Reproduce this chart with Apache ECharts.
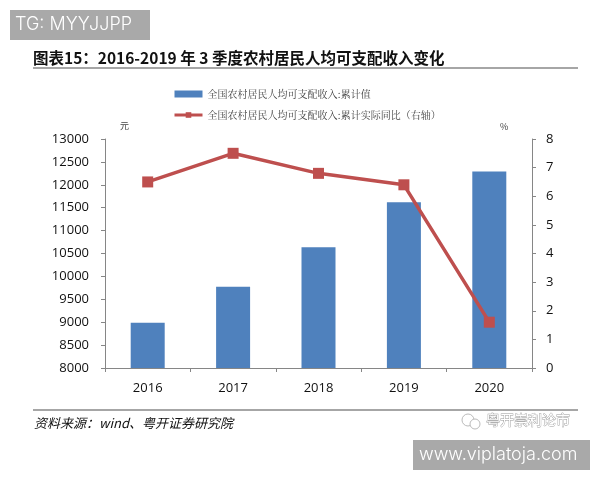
<!DOCTYPE html>
<html>
<head>
<meta charset="utf-8">
<style>html,body{margin:0;padding:0;background:#fff}#c{width:600px;height:480px}</style>
<script src="https://cdn.jsdelivr.net/npm/echarts@6/dist/echarts.min.js"></script>
</head>
<body>
<div id="c"></div>
<script>
const years = ['2016', '2017', '2018', '2019', '2020'];
const incomeTotal = [8987, 9776, 10638, 11618, 12290];
const realGrowth = [6.5, 7.5, 6.8, 6.4, 1.6];
const incomeName = '全国农村居民人均可支配收入:累计值';
const growthName = '全国农村居民人均可支配收入:累计实际同比\uFF08右轴\uFF09';
const chartTitle = '图表15\uFF1A2016-2019 年 3 季度农村居民人均可支配收入变化';
const sourceNote = '资料来源\uFF1Awind、粤开证券研究院';

const cjk = '"Noto Sans CJK SC", sans-serif';
const axisGrey = '#868686';
const axisFont = { color: '#111', fontSize: 13, fontFamily: '"Open Sans", sans-serif' };
const axisLine = { show: true, lineStyle: { color: axisGrey, width: 1 } };
const axisTick = { show: true, length: 4, lineStyle: { color: axisGrey } };

const chart = echarts.init(document.getElementById('c'), null, { renderer: 'canvas' });
chart.setOption({
  animation: false,
  backgroundColor: '#fff',
  grid: { left: 105, right: 68, top: 139, bottom: 112 },
  legend: {
    orient: 'vertical', left: 173, top: 89, padding: 0, itemGap: 11,
    itemWidth: 28, itemHeight: 7,
    lineStyle: { width: 3 },
    textStyle: { fontSize: 10, color: '#444', fontFamily: '"Noto Serif CJK SC", ' + cjk },
    data: [{ name: incomeName, icon: 'rect' }, growthName]
  },
  xAxis: {
    type: 'category', data: years,
    axisLine, axisTick: { ...axisTick, alignWithLabel: false },
    axisLabel: { ...axisFont, margin: 14 }
  },
  yAxis: [
    { type: 'value', min: 8000, max: 13000, interval: 500, axisLine, axisTick, splitLine: { show: false },
      axisLabel: { ...axisFont, margin: 16, formatter: v => String(v) } },
    { type: 'value', min: 0, max: 8, interval: 1, position: 'right', axisLine, axisTick, splitLine: { show: false },
      axisLabel: { ...axisFont, margin: 14 } }
  ],
  series: [
    { name: incomeName, type: 'bar', data: incomeTotal, barWidth: 34, itemStyle: { color: '#4F81BD' } },
    { name: growthName, type: 'line', yAxisIndex: 1, data: realGrowth,
      symbol: 'rect', symbolSize: 11,
      lineStyle: { color: '#BE4F4E', width: 3.5 }, itemStyle: { color: '#BE4F4E' } }
  ],
  graphic: [
    { type: 'rect', shape: { x: 10, y: 10, width: 140, height: 30 }, style: { fill: '#A9A9A9' } },
    { type: 'text', style: { x: 15, y: 25, text: 'TG: MYYJJPP', fill: '#fff', fontSize: 18, verticalAlign: 'middle', fontFamily: 'Inter, sans-serif', fontWeight: 300 } },
    { type: 'text', style: { x: 33, y: 58, text: chartTitle, fill: '#111', fontSize: 15.5, fontWeight: 'bold', verticalAlign: 'middle', fontFamily: cjk } },
    { type: 'line', shape: { x1: 33, y1: 68, x2: 578, y2: 68 }, style: { stroke: '#A6A6A6', lineWidth: 2 } },
    { type: 'text', style: { x: 120, y: 126, text: '元', fill: '#444', fontSize: 9, verticalAlign: 'middle', fontFamily: cjk } },
    { type: 'text', style: { x: 500, y: 127, text: '%', fill: '#444', fontSize: 9, verticalAlign: 'middle', fontFamily: cjk } },
    { type: 'line', shape: { x1: 33, y1: 410, x2: 578, y2: 410 }, style: { stroke: '#A6A6A6', lineWidth: 2 } },
    { type: 'text', style: { x: 34, y: 423, text: sourceNote, fill: '#111', fontSize: 13, fontStyle: 'italic', verticalAlign: 'middle', fontFamily: cjk } },
    { type: 'circle', shape: { cx: 468, cy: 420, r: 6 }, style: { fill: '#fff', stroke: '#BBB', lineWidth: 1 } },
    { type: 'circle', shape: { cx: 475, cy: 424, r: 5 }, style: { fill: '#fff', stroke: '#BBB', lineWidth: 1 } },
    { type: 'text', style: { x: 486, y: 420, text: '粤开崇利论市', fill: '#fff', stroke: '#999', lineWidth: 0.8, fontSize: 14, verticalAlign: 'middle', fontFamily: cjk } },
    { type: 'rect', shape: { x: 413, y: 440, width: 177, height: 30 }, style: { fill: '#A9A9A9' } },
    { type: 'text', style: { x: 419, y: 455, text: 'www.viplatoja.com', fill: '#fff', fontSize: 18, verticalAlign: 'middle', fontFamily: 'Inter, sans-serif', fontWeight: 300 } }
  ]
});
</script>
</body>
</html>
